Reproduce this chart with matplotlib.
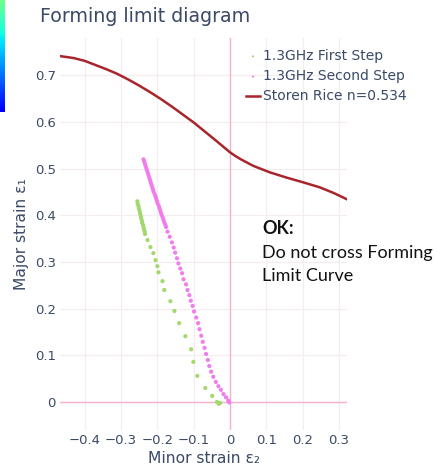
import numpy as np
import matplotlib
matplotlib.use("Agg")
import matplotlib.pyplot as plt

# Storen Rice forming limit curve
flc_x = [-0.466, -0.43, -0.40, -0.37, -0.34, -0.31, -0.28, -0.25, -0.22, -0.19, -0.16, -0.13,
         -0.10, -0.07, -0.04, -0.02, 0.0, 0.015, 0.03, 0.064, 0.11, 0.155, 0.20, 0.247, 0.285, 0.32]
flc_y = [0.741, 0.737, 0.731, 0.722, 0.713, 0.703, 0.691, 0.678, 0.664, 0.649, 0.633, 0.616,
         0.599, 0.580, 0.561, 0.548, 0.535, 0.527, 0.520, 0.506, 0.492, 0.481, 0.471, 0.460, 0.448, 0.435]

# 1.3GHz First Step
first_x = [-0.255, -0.254, -0.252, -0.251, -0.249, -0.248, -0.246, -0.245, -0.243, -0.242,
           -0.240, -0.238, -0.237, -0.235, -0.234, -0.227, -0.219, -0.211, -0.205, -0.200,
           -0.197, -0.186, -0.181, -0.164, -0.153, -0.140, -0.123, -0.107, -0.101, -0.090,
           -0.068, -0.049, -0.036, -0.031, -0.027]
first_y = [0.430, 0.425, 0.420, 0.415, 0.410, 0.405, 0.400, 0.395, 0.390, 0.385,
           0.380, 0.375, 0.370, 0.365, 0.360, 0.347, 0.332, 0.319, 0.304, 0.291,
           0.278, 0.259, 0.240, 0.216, 0.195, 0.169, 0.141, 0.113, 0.086, 0.056,
           0.030, 0.013, 0.000, -0.004, -0.002]

# 1.3GHz Second Step
second_x = [-0.238, -0.236, -0.234, -0.232, -0.230, -0.228, -0.226, -0.224, -0.222, -0.220,
            -0.218, -0.216, -0.214, -0.212, -0.210, -0.207, -0.205, -0.203, -0.201, -0.199,
            -0.196, -0.194, -0.192, -0.190, -0.188, -0.185, -0.183, -0.181, -0.178, -0.176,
            -0.172, -0.166, -0.160, -0.155, -0.151, -0.146, -0.142, -0.137, -0.132, -0.128,
            -0.121, -0.117, -0.112, -0.108, -0.103, -0.099, -0.093, -0.088, -0.084, -0.079,
            -0.075, -0.070, -0.066, -0.061, -0.057, -0.052, -0.046, -0.039, -0.032, -0.025,
            -0.018, -0.011, -0.005, -0.002]
second_y = [0.520, 0.515, 0.510, 0.505, 0.500, 0.495, 0.490, 0.485, 0.480, 0.475,
            0.470, 0.465, 0.460, 0.455, 0.450, 0.445, 0.440, 0.435, 0.430, 0.425,
            0.420, 0.415, 0.410, 0.405, 0.400, 0.395, 0.390, 0.385, 0.380, 0.375,
            0.365, 0.354, 0.342, 0.331, 0.320, 0.308, 0.297, 0.286, 0.276, 0.263,
            0.252, 0.240, 0.229, 0.217, 0.206, 0.194, 0.181, 0.169, 0.156, 0.142,
            0.129, 0.116, 0.103, 0.090, 0.077, 0.065, 0.054, 0.043, 0.034, 0.026,
            0.017, 0.010, 0.003, -0.001]

x_ticks = [-0.4, -0.3, -0.2, -0.1, 0, 0.1, 0.2, 0.3]
x_tick_labels = ["\u22120.4", "\u22120.3", "\u22120.2", "\u22120.1", "0", "0.1", "0.2", "0.3"]
y_ticks = [0, 0.1, 0.2, 0.3, 0.4, 0.5, 0.6, 0.7]
y_tick_labels = ["0", "0.1", "0.2", "0.3", "0.4", "0.5", "0.6", "0.7"]

text_col = "#3b4a66"

fig = plt.figure(figsize=(4.36, 4.69), dpi=100)
ax = fig.add_axes([60 / 436, 1 - 430 / 469, 287 / 436, 392 / 469])

for t in x_ticks:
    ax.axvline(t, color="#f4ecef", lw=0.8, zorder=0)
for t in y_ticks:
    ax.axhline(t, color="#f4ecef", lw=0.8, zorder=0)
ax.axhline(0, color="#f7b0d4", lw=1.0, zorder=1)
ax.axvline(0, color="#f7b0d4", lw=1.0, zorder=1)

ax.scatter(first_x, first_y, s=9, color="#a2d86c", edgecolors="none", zorder=3,
           label="1.3GHz First Step")
ax.scatter(second_x, second_y, s=9, color="#f17ceb", edgecolors="none", zorder=3,
           label="1.3GHz Second Step")
ax.plot(flc_x, flc_y, color="#a8252c", lw=1.8, zorder=4, solid_joinstyle="round",
        label="Storen Rice n=0.534")

ax.set_xlim(-0.468, 0.322)
ax.set_ylim(-0.06, 0.78)
ax.set_xticks(x_ticks)
ax.set_xticklabels(x_tick_labels)
ax.set_yticks(y_ticks)
ax.set_yticklabels(y_tick_labels)
ax.tick_params(length=0, labelsize=9.5, colors=text_col, pad=3)
for s in ax.spines.values():
    s.set_visible(False)

ax.set_xlabel("Minor strain \u03b5\u2082", fontsize=11.2, color=text_col, labelpad=3)
ax.set_ylabel("Major strain \u03b5\u2081", fontsize=11.2, color=text_col, labelpad=4)

fig.text(40 / 436, 1 - 17 / 469, "Forming limit diagram", fontsize=13.7, color=text_col,
         ha="left", va="center")

fig.legend(loc="upper left", bbox_to_anchor=(246 / 436, 1 - 49 / 469), frameon=False,
           fontsize=10, handlelength=1.0, handletextpad=0.2, labelspacing=0.45,
           markerscale=0.5, borderaxespad=0, borderpad=0, labelcolor=text_col)

fig.text(262 / 436, 1 - 228 / 469, "OK:", fontsize=13, fontweight="bold", color="#111111",
         family="Lato", ha="left", va="center")
fig.text(262 / 436, 1 - 253 / 469, "Do not cross Forming", fontsize=13, color="#111111",
         family="Lato", ha="left", va="center")
fig.text(262 / 436, 1 - 276 / 469, "Limit Curve", fontsize=13, color="#111111",
         family="Lato", ha="left", va="center")

# colour strip left over at the top left corner
cax = fig.add_axes([0, 1 - 112 / 469, 4 / 436, 112 / 469])
cax.imshow(np.linspace(0.48, 0.12, 50).reshape(-1, 1), cmap="jet", vmin=0, vmax=1, aspect="auto")
cax.axis("off")

fig.savefig("out.png", dpi=100)
